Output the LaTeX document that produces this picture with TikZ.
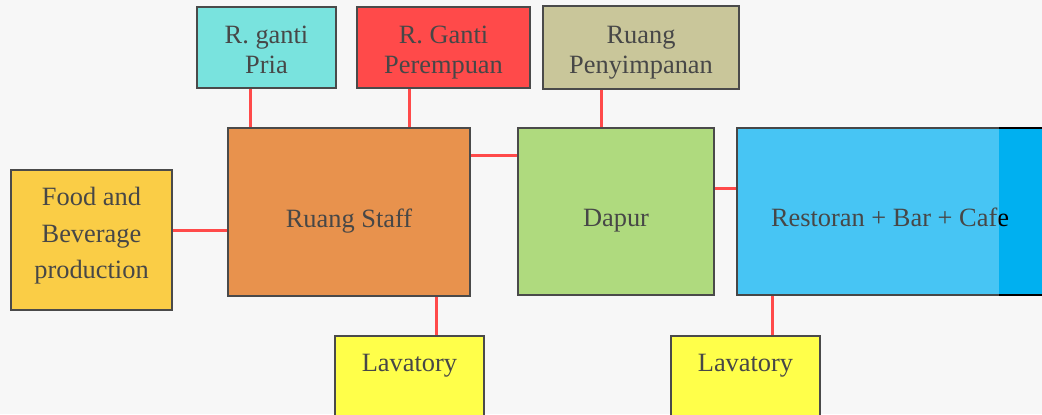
\documentclass[tikz,border=0pt]{standalone}
\usepackage{fontspec}
\setmainfont{Liberation Serif}
\definecolor{paper}{HTML}{F7F7F7}
\definecolor{edge}{HTML}{4A4A4A}
\definecolor{ink}{HTML}{474747}
\definecolor{wire}{HTML}{FF4A4A}
\definecolor{cPria}{HTML}{79E3DE}
\definecolor{cWanita}{HTML}{FF4A4A}
\definecolor{cSimpan}{HTML}{C9C69A}
\definecolor{cFnb}{HTML}{FACD46}
\definecolor{cStaff}{HTML}{E8924D}
\definecolor{cDapur}{HTML}{AFDA7E}
\definecolor{cResto}{HTML}{00B0F0}
\definecolor{cLav}{HTML}{FFFF4A}
\begin{document}
\begin{tikzpicture}[x=0.5pt,y=-0.5pt,
  room/.style={draw=edge, line width=1pt, text=ink, inner sep=0pt,
    align=center, font=\fontsize{13.2}{15}\selectfont},
  toproom/.style={room, minimum height=40.5pt, text height=26.5pt, text depth=1pt},
  bigroom/.style={room, text height=18pt, text depth=3pt},
  lavroom/.style={room, fill=cLav, anchor=north, minimum width=74.5pt,
    text height=17.5pt, text depth=30pt},
  link/.style={draw=wire, line width=1.5pt}]
  \useasboundingbox (0,0) rectangle (1042,414);
  \clip (0,0) rectangle (1042,414);
  \fill[paper] (0,0) rectangle (1042,414);

  % rooms
  \node[toproom, fill=cPria, minimum width=69.5pt]
    (pria) at (266.5,47.5) {R. ganti\\Pria};
  \node[toproom, fill=cWanita, minimum width=86.5pt]
    (wanita) at (443.5,47.5) {R. Ganti\\Perempuan};
  \node[toproom, fill=cSimpan, minimum width=98pt, minimum height=41.5pt]
    (simpan) at (641,47.5) {Ruang\\Penyimpanan};
  \node[room, fill=cFnb, minimum width=80.5pt, minimum height=70pt,
    font=\fontsize{13.2}{18.25}\selectfont, text height=41.5pt, text depth=3pt]
    (fnb) at (91.5,240) {Food and\\Beverage\\production};
  \node[bigroom, fill=cStaff, minimum width=121pt, minimum height=84pt]
    (staff) at (349,212) {Ruang Staff};
  \node[bigroom, fill=cDapur, minimum width=98pt, minimum height=83.5pt]
    (dapur) at (616,211.5) {Dapur};
  \node[bigroom, fill=cResto, draw=black, text=black, minimum width=153pt,
    minimum height=83.5pt]
    (resto) at (890,211.5) {Restoran + Bar + Cafe};
  % lighter left part of the restaurant block
  \fill[white, opacity=0.28] ([shift={(-1pt,1pt)}]resto.north west)
    rectangle ([shift={(131.5pt,-1pt)}]resto.south west);
  \node[lavroom] (lav1) at (409.5,335) {Lavatory};
  \node[lavroom] (lav2) at (745.5,335) {Lavatory};

  % connections
  \draw[link] ([xshift=-8.25pt]pria.south) coordinate (p1) -- (p1 |- staff.north);
  \draw[link] ([xshift=-17.25pt]wanita.south) coordinate (p2) -- (p2 |- staff.north);
  \draw[link] ([xshift=-20pt]simpan.south) coordinate (p3) -- (p3 |- dapur.north);
  \draw[link] ([yshift=5pt]fnb.east) coordinate (p4) -- (p4 -| staff.west);
  \draw[link] ([yshift=28.5pt]staff.east) coordinate (p5) -- (p5 -| dapur.west);
  \draw[link] ([yshift=11.75pt]dapur.east) coordinate (p6) -- (p6 -| resto.west);
  \draw[link] ([xshift=43.5pt]staff.south) coordinate (p7) -- (p7 |- lav1.north);
  \draw[link] ([xshift=-59pt]resto.south) coordinate (p8) -- (p8 |- lav2.north);
\end{tikzpicture}
\end{document}
